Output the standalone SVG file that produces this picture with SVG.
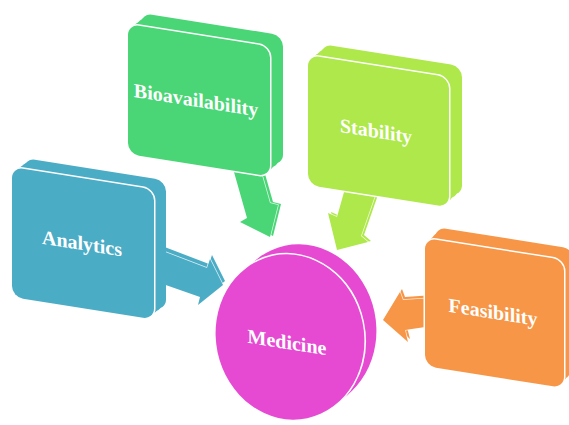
<svg xmlns="http://www.w3.org/2000/svg" width="569" height="425" viewBox="0 0 569 425">
<style>
  .lbl{font-family:"Liberation Serif","Times New Roman",serif;font-weight:bold;font-size:20px;fill:#ffffff;text-anchor:middle}
  .gap{fill:none;stroke:#ffffff;stroke-width:3}
  .agap{fill:none;stroke:#ffffff;stroke-width:1.5;stroke-opacity:0.8}
  .teal{fill:#4BACC6}
  .green{fill:#4AD676}
  .lime{fill:#AEE84A}
  .orange{fill:#F79646}
  .mag{fill:#E64AD2}
</style>
<rect width="569" height="425" fill="#ffffff"/>
<g id="connectors">
  <g id="arrow-analytics" class="teal">
    <polygon points="160,250 207,268 210,259 223,285 198,305 200,297 160,283" transform="translate(2,-4)"/>
    <polygon class="agap" points="160,250 207,268 210,259 223,285 198,305 200,297 160,283"/>
    <polygon points="160,250 207,268 210,259 223,285 198,305 200,297 160,283"/>
  </g>
  <g id="arrow-bio" class="green">
    <polygon points="232,165 260,168 270,203 278,205 270,237 240,222 247,218" transform="translate(3,-1)"/>
    <polygon class="agap" points="232,165 260,168 270,203 278,205 270,237 240,222 247,218"/>
    <polygon points="232,165 260,168 270,203 278,205 270,237 240,222 247,218"/>
  </g>
  <g id="arrow-stability" class="lime">
    <polygon points="346,185 377,190 361,236 368,242 337,250 328,213 337,217" transform="translate(3,-1)"/>
    <polygon class="agap" points="346,185 377,190 361,236 368,242 337,250 328,213 337,217"/>
    <polygon points="346,185 377,190 361,236 368,242 337,250 328,213 337,217"/>
  </g>
  <g id="arrow-feasibility" class="orange">
    <polygon points="383,320 400,292 403,300 432,298 432,326 405,330 408,342" transform="translate(2,-3)"/>
    <polygon class="agap" points="383,320 400,292 403,300 432,298 432,326 405,330 408,342"/>
    <polygon points="383,320 400,292 403,300 432,298 432,326 405,330 408,342"/>
  </g>
</g>
<g id="analytics" transform="translate(12,167) skewY(9)">
  <rect class="teal" x="4" y="-3.6" width="142" height="130" rx="11"/>
  <rect class="teal" x="8" y="-7.3" width="142" height="130" rx="11"/>
  <rect class="teal" x="12" y="-10.9" width="142" height="130" rx="11"/>
  <rect class="gap" x="0" y="0" width="142" height="130" rx="11"/>
  <rect class="teal" x="0" y="0" width="142" height="130" rx="11"/>
  <text class="lbl" x="70" y="72">Analytics</text>
</g>
<g id="bioavailability" transform="translate(128,24) skewY(9)">
  <rect class="green" x="4.3" y="-4.4" width="142" height="130" rx="11"/>
  <rect class="green" x="8.7" y="-8.7" width="142" height="130" rx="11"/>
  <rect class="green" x="13" y="-13.1" width="142" height="130" rx="11"/>
  <rect class="gap" x="0" y="0" width="142" height="130" rx="11"/>
  <rect class="green" x="0" y="0" width="142" height="130" rx="11"/>
  <text class="lbl" x="68" y="72">Bioavailability</text>
</g>
<g id="stability" transform="translate(308,55) skewY(9)">
  <rect class="lime" x="4.3" y="-4.4" width="141" height="130" rx="11"/>
  <rect class="lime" x="8.7" y="-8.7" width="141" height="130" rx="11"/>
  <rect class="lime" x="13" y="-13.1" width="141" height="130" rx="11"/>
  <rect class="gap" x="0" y="0" width="141" height="130" rx="11"/>
  <rect class="lime" x="0" y="0" width="141" height="130" rx="11"/>
  <text class="lbl" x="68" y="72">Stability</text>
</g>
<g id="feasibility" transform="translate(425,238) skewY(9)">
  <rect class="orange" x="3.3" y="-4.2" width="139" height="128" rx="11"/>
  <rect class="orange" x="6.7" y="-8.4" width="139" height="128" rx="11"/>
  <rect class="orange" x="10" y="-12.6" width="139" height="128" rx="11"/>
  <rect class="gap" x="0" y="0" width="139" height="128" rx="11"/>
  <rect class="orange" x="0" y="0" width="139" height="128" rx="11"/>
  <text class="lbl" x="68" y="70">Feasibility</text>
</g>
<g id="medicine">
  <ellipse class="mag" cx="294" cy="334" rx="74" ry="83" transform="rotate(-12 294 334)"/>
  <ellipse class="mag" cx="298" cy="331" rx="74" ry="83" transform="rotate(-12 298 331)"/>
  <ellipse class="mag" cx="302" cy="327" rx="74" ry="83" transform="rotate(-12 302 327)"/>
  <ellipse class="gap" cx="290" cy="337" rx="74" ry="83" transform="rotate(-12 290 337)"/>
  <ellipse class="mag" cx="290" cy="337" rx="74" ry="83" transform="rotate(-12 290 337)"/>
  <text class="lbl" transform="translate(287,349) skewY(9)" x="0" y="0">Medicine</text>
</g>
</svg>
